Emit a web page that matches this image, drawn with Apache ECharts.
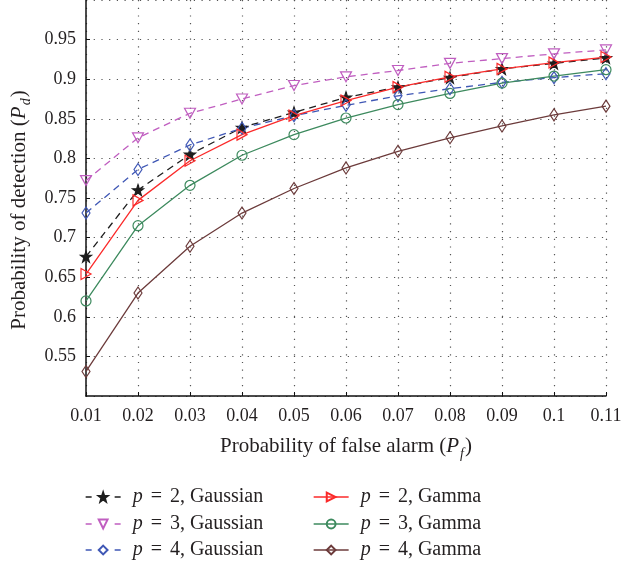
<!DOCTYPE html>
<html>
<head>
<meta charset="utf-8">
<script src="https://cdn.jsdelivr.net/npm/echarts@6/dist/echarts.min.js"></script>
<style>
    html, body { margin: 0; padding: 0; background: #fff; }
    #chart { width: 635px; height: 561px; }
</style>
</head>
<body>
<div id="chart"></div>
<script>
// x values (probability of false alarm)
const pf = [0.01, 0.02, 0.03, 0.04, 0.05, 0.06, 0.07, 0.08, 0.09, 0.1, 0.11];

// Pd
const gauss2 = [0.676, 0.760, 0.805, 0.839, 0.858, 0.877, 0.890, 0.902, 0.913, 0.920, 0.927];
const gauss3 = [0.772, 0.826, 0.857, 0.875, 0.892, 0.903, 0.911, 0.920, 0.926, 0.932, 0.937];
const gauss4 = [0.731, 0.786, 0.817, 0.838, 0.854, 0.867, 0.879, 0.888, 0.896, 0.902, 0.907];
const gamma2 = [0.654, 0.747, 0.797, 0.830, 0.854, 0.873, 0.890, 0.903, 0.913, 0.921, 0.928];
const gamma3 = [0.620, 0.715, 0.766, 0.804, 0.830, 0.851, 0.868, 0.882, 0.895, 0.904, 0.912];
const gamma4 = [0.531, 0.630, 0.689, 0.731, 0.762, 0.788, 0.809, 0.826, 0.841, 0.855, 0.866];

const seriesNames = [
    'p = 2, Gaussian', 'p = 3, Gaussian', 'p = 4, Gaussian',
    'p = 2, Gamma', 'p = 3, Gamma', 'p = 4, Gamma'
];

const SERIF = '"Liberation Serif", "DejaVu Serif", serif';
const TXT = '#231f20';

// marker shapes
const STAR = 'path://M5,0L6.2,3.7L10,3.8L7,6.1L8.1,10L5,7.7L1.9,10L3,6.1L0,3.8L3.8,3.7Z';
const TRI_DOWN = 'path://M0,0L10,0L5,9Z';
const TRI_RIGHT = 'path://M0,0L9,5L0,10Z';
const DIAMOND = 'path://M5,0L10,5L5,10L0,5Z';

function toPairs(arr) {
    return arr.map((v, i) => [pf[i], v]);
}

function makeSeries(name, data, color, dashed, symbol, size, filled) {
    return {
        name: name,
        type: 'line',
        data: toPairs(data),
        symbol: symbol,
        symbolSize: size,
        showAllSymbol: true,
        lineStyle: {
            color: color,
            width: 1.3,
            type: dashed ? [7, 5] : 'solid'
        },
        itemStyle: {
            color: filled ? color : 'rgba(255,255,255,0)',
            borderColor: color,
            borderWidth: 1.2
        },
        emphasis: { disabled: true },
        animation: false
    };
}

/**
 * one legend entry, placed by hand (two columns in the picture)
 */
function makeLegend(name, left, top, dashed) {
    return {
        data: [name],
        left: left,
        top: top,
        itemWidth: 35,
        itemHeight: 11,
        padding: 0,
        lineStyle: dashed ? { type: [6, 23], width: 1.3 } : { width: 1.3 },
        formatter: n => '{i|p}{e|=}' + n.slice(4),
        textStyle: {
            fontFamily: SERIF,
            fontSize: 20,
            color: TXT,
            padding: [0, 0, 0, 7],
            rich: {
                i: { fontFamily: SERIF, fontSize: 20, fontStyle: 'italic', color: TXT },
                e: { fontFamily: SERIF, fontSize: 20, color: TXT, padding: [0, 8, 0, 8] }
            }
        }
    };
}

function nameStyle(pad) {
    return {
        fontFamily: SERIF,
        fontSize: 21,
        color: TXT,
        padding: pad,
        rich: {
            i: { fontFamily: SERIF, fontSize: 21, fontStyle: 'italic', color: TXT },
            s: { fontFamily: SERIF, fontSize: 14, fontStyle: 'italic', color: TXT, verticalAlign: 'bottom', padding: [0, 1, -4, 1] }
        }
    };
}

const chart = echarts.init(document.getElementById('chart'));

const option = {
    backgroundColor: '#fff',
    animation: false,
    grid: {
        left: 86,
        right: 29,
        top: -8,
        bottom: 165
    },
    legend: [
        makeLegend(seriesNames[0], 85, 487, true),
        makeLegend(seriesNames[1], 85, 514, true),
        makeLegend(seriesNames[2], 85, 540, true),
        makeLegend(seriesNames[3], 313, 487, false),
        makeLegend(seriesNames[4], 313, 514, false),
        makeLegend(seriesNames[5], 313, 540, false)
    ],
    xAxis: {
        type: 'value',
        min: 0.01,
        max: 0.11,
        interval: 0.01,
        name: 'Probability of false alarm ({i|P}{s|f})',
        nameLocation: 'middle',
        nameGap: 40,
        nameTextStyle: nameStyle(0),
        axisLine: { lineStyle: { color: '#111', width: 1.5 } },
        axisTick: { inside: true, length: 4, lineStyle: { color: '#111' } },
        axisLabel: {
            fontFamily: SERIF,
            fontSize: 18,
            color: TXT,
            margin: 11
        },
        splitLine: {
            show: true,
            lineStyle: { color: '#555', width: 1.2, type: [1.2, 6.5] }
        }
    },
    yAxis: {
        type: 'value',
        min: 0.5,
        max: 1.0,
        interval: 0.05,
        name: 'Probability of detection ({i|P}{s|d})',
        nameLocation: 'middle',
        nameGap: 45,
        nameTextStyle: nameStyle([0, 24, 0, 0]),
        axisLine: { show: true, lineStyle: { color: '#111', width: 1.5 } },
        axisTick: { show: true, inside: true, length: 4, lineStyle: { color: '#111' } },
        axisLabel: {
            fontFamily: SERIF,
            fontSize: 18,
            color: TXT,
            margin: 10,
            showMinLabel: false,
            showMaxLabel: false,
            formatter: v => {
                const r = Math.round(v * 100) / 100;
                if (r <= 0.5 || r >= 1) return '';
                return String(r);
            }
        },
        splitLine: {
            show: true,
            lineStyle: { color: '#555', width: 1.2, type: [1.2, 6.5] }
        }
    },
    series: [
        makeSeries(seriesNames[0], gauss2, '#1e1e1e', true, STAR, 11, true),
        makeSeries(seriesNames[1], gauss3, '#c05ec0', true, TRI_DOWN, [11, 10], false),
        makeSeries(seriesNames[2], gauss4, '#3f57b5', true, DIAMOND, [8, 12], false),
        makeSeries(seriesNames[3], gamma2, '#fb2a2a', false, TRI_RIGHT, [10, 11], false),
        makeSeries(seriesNames[4], gamma3, '#3d8a5e', false, 'circle', 10, false),
        makeSeries(seriesNames[5], gamma4, '#6c3b3b', false, DIAMOND, [8, 12], false)
    ]
};

chart.setOption(option);
</script>
</body>
</html>
